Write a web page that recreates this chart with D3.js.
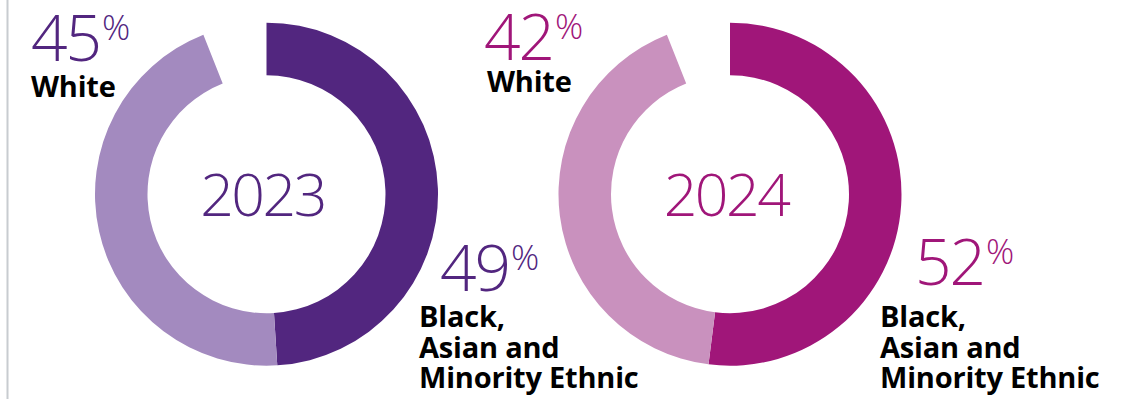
<!DOCTYPE html>
<html>
<head>
<meta charset="utf-8">
<script src="https://cdn.jsdelivr.net/npm/d3@7"></script>
<style>
html,body{margin:0;padding:0;background:#fff;}
svg{display:block;}
</style>
</head>
<body>
<svg id="chart" width="1132" height="399"></svg>
<script>
// ---- data ----
const years = ["2023", "2024"];
const categories = ["Black, Asian and Minority Ethnic", "White"];
const bameValues = [49, 52];
const whiteValues = [45, 42];
const darkColors = ["#52267f", "#a01679"];
const lightColors = ["#a38abf", "#c991be"];

// ---- layout ----
const svg = d3.select("#chart");
const W = 1132, H = 399;
const outerR = 171.5, innerR = 119;
const centers = [[266.5, 194.2], [730, 194.2]];

const whiteLayout = [
  {nx: 31, ny: 61, lx: 31, ly: 97},
  {nx: 484, ny: 60, lx: 487, ly: 92}
];
const bameLayout = [
  {nx: 440, ny: 291, lx: 419, ly: 327},
  {nx: 915, ny: 285, lx: 880, ly: 327}
];

// left border line
svg.append("line")
  .attr("x1", 7.5).attr("x2", 7.5).attr("y1", 0).attr("y2", H)
  .attr("stroke", "#c8ccd0").attr("stroke-width", 2);

const arc = d3.arc().innerRadius(innerR).outerRadius(outerR);

years.forEach((yr, i) => {
  const vals = [bameValues[i], whiteValues[i]];
  const rows = vals.map((v, k) => ({cat: categories[k], v}));
  const pie = d3.pie()
    .sort(null)
    .value(d => d.v)
    .startAngle(0)
    .endAngle(2 * Math.PI * d3.sum(vals) / 100);
  const colour = d3.scaleOrdinal().domain(categories).range([darkColors[i], lightColors[i]]);
  const g = svg.append("g").attr("transform", `translate(${centers[i][0]},${centers[i][1]})`);
  g.selectAll("path")
    .data(pie(rows))
    .join("path")
    .attr("d", arc)
    .attr("fill", d => colour(d.data.cat));

  // year in centre
  g.append("text")
    .attr("x", -4).attr("y", 22)
    .attr("text-anchor", "middle")
    .attr("font-family", "'Open Sans', sans-serif")
    .attr("font-weight", 300)
    .attr("font-size", 59)
    .attr("letter-spacing", -2.5)
    .attr("fill", darkColors[i])
    .text(yr);

  const pctLabel = (lay, value, lines) => {
    const t = svg.append("text")
      .attr("x", lay.nx).attr("y", lay.ny)
      .attr("font-family", "'Open Sans', sans-serif")
      .attr("font-weight", 300)
      .attr("fill", darkColors[i]);
    t.append("tspan").attr("font-size", 64).attr("letter-spacing", -2).text(value);
    t.append("tspan").attr("font-size", 35).attr("dy", -21).attr("dx", 2).text("%");
    const lt = svg.append("text")
      .attr("font-family", "'Open Sans', sans-serif")
      .attr("font-weight", 700)
      .attr("font-size", 29)
      .attr("letter-spacing", -0.2)
      .attr("fill", "#000");
    lines.forEach((ln, k) => {
      lt.append("tspan").attr("x", lay.lx).attr("y", lay.ly + k * 30.6).text(ln);
    });
  };
  pctLabel(whiteLayout[i], whiteValues[i], ["White"]);
  pctLabel(bameLayout[i], bameValues[i], ["Black,", "Asian and", "Minority Ethnic"]);
});
</script>
</body>
</html>
